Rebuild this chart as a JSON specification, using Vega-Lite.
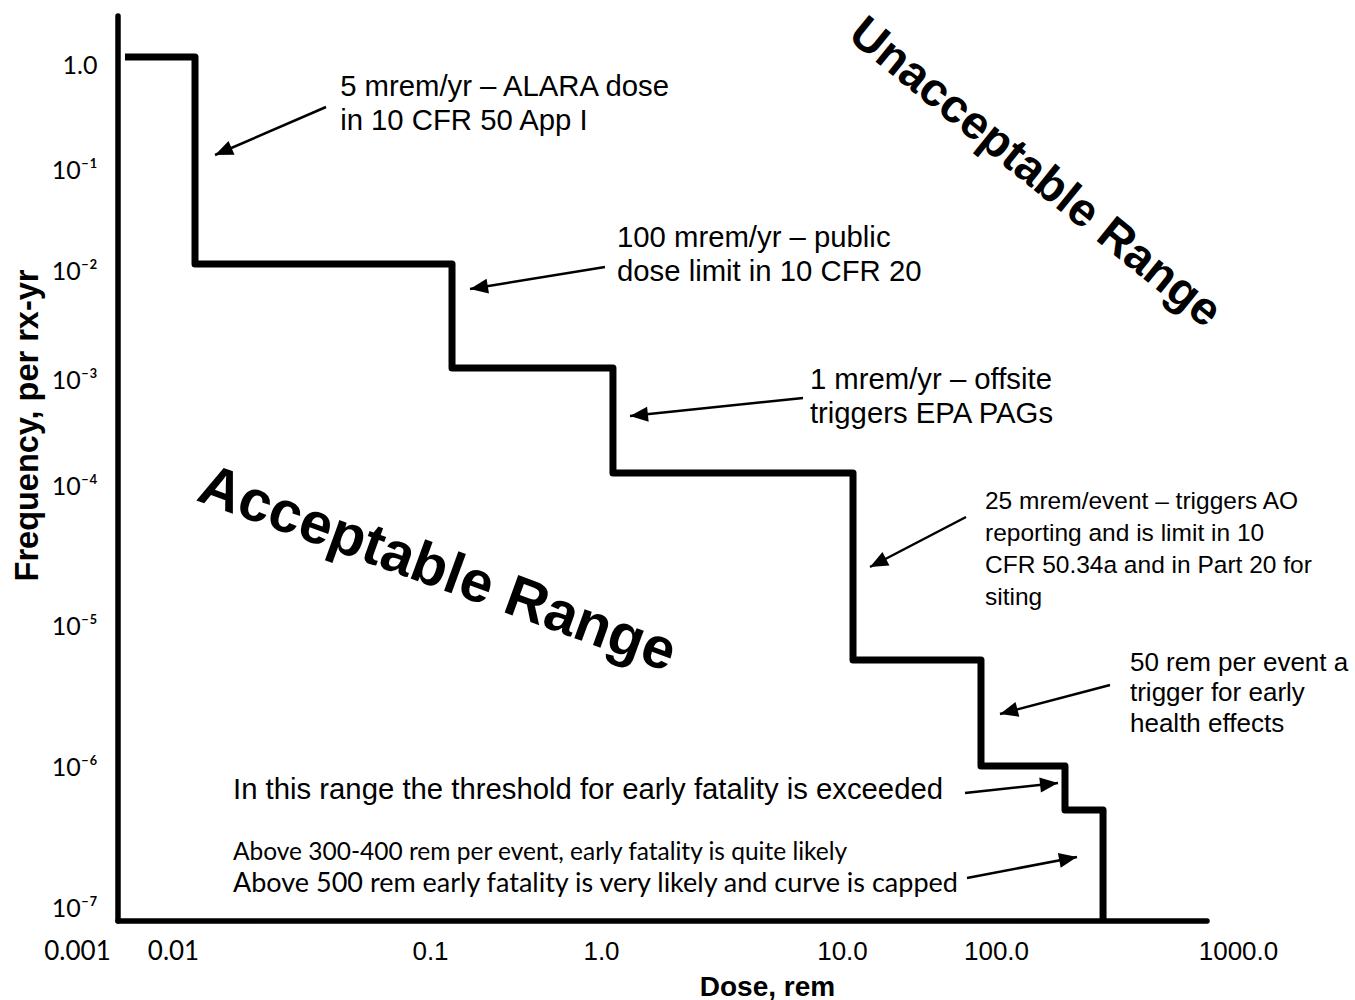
{
  "$schema": "https://vega.github.io/schema/vega-lite/v6.json",
  "width": 1132,
  "height": 905,
  "autosize": {"type": "none"},
  "padding": {"left": 118, "top": 16, "right": 105, "bottom": 79},
  "background": "white",
  "config": {"view": {"stroke": null}},
  "datasets": {
    "frame": [
      {"dose": 0.002673, "freq": 8.09e-8, "dose2": 0.002673, "freq2": 2.93},
      {"dose": 0.002673, "freq": 8.09e-8, "dose2": 744.6, "freq2": 8.09e-8}
    ],
    "steps": [
      {"dose": 0.00316, "freq": 1.192},
      {"dose": 0.01218, "freq": 0.01173},
      {"dose": 0.1345, "freq": 0.001288},
      {"dose": 1.121, "freq": 0.0001327},
      {"dose": 11.79, "freq": 0.00000574},
      {"dose": 79.9, "freq": 0.000001016},
      {"dose": 192.8, "freq": 4.955e-7},
      {"dose": 276.9, "freq": 8.09e-8}
    ],
    "arrows": [
      {"dose": 0.01457, "freq": 0.1389, "dose2": 0.03939, "freq2": 0.3981},
      {"dose": 0.1714, "freq": 0.006837, "dose2": 1.039, "freq2": 0.01095},
      {"dose": 1.319, "freq": 0.0004573, "dose2": 6.889, "freq2": 0.0006762},
      {"dose": 15.2, "freq": 0.00002639, "dose2": 63.87, "freq2": 0.00006006},
      {"dose": 103.9, "freq": 0.000002376, "dose2": 295.9, "freq2": 0.000003815},
      {"dose": 180.4, "freq": 7.7e-7, "dose2": 62.9, "freq2": 6.54e-7},
      {"dose": 216.1, "freq": 2.3e-7, "dose2": 64.8, "freq2": 1.632e-7}
    ],
    "notesLarge": [
      {"dose": 0.0447, "freq": 0.6184, "note": ["5 mrem/yr – ALARA dose", "in 10 CFR 50 App I"]},
      {"dose": 1.165, "freq": 0.02137, "note": ["100 mrem/yr – public", "dose limit in 10 CFR 20"]},
      {"dose": 7.36, "freq": 0.001, "note": ["1 mrem/yr – offsite", "triggers EPA PAGs"]},
      {"dose": 0.01712, "freq": 6.867e-7, "note": ["In this range the threshold for early fatality is exceeded"]}
    ],
    "notesMid": [
      {"dose": 84.8, "freq": 0.00007686, "note": ["25 mrem/event – triggers AO", "reporting and is limit in 10", "CFR 50.34a and in Part 20 for", "siting"]}
    ],
    "notesRight": [
      {"dose": 357.8, "freq": 0.000005465, "note": ["50 rem per event a", "trigger for early", "health effects"]}
    ],
    "note7": [
      {"dose": 0.01712, "freq": 2.455e-7, "note": "Above 300-400 rem per event, early fatality is quite likely"}
    ],
    "note8": [
      {"dose": 0.01712, "freq": 1.48e-7, "note": "Above 500 rem early fatality is very likely and curve is capped"}
    ],
    "acceptable": [
      {"dose": 0.1099, "freq": 0.00002512, "region": "Acceptable Range"}
    ],
    "unacceptable": [
      {"dose": 144.9, "freq": 0.0935, "region": "Unacceptable Range"}
    ]
  },
  "encoding": {
    "x": {
      "field": "dose",
      "type": "quantitative",
      "scale": {
        "type": "log",
        "domain": [0.002673, 0.01, 0.1, 1, 10, 100, 1000, 1121],
        "range": [0, 55, 312, 483, 724, 878, 1120, 1132],
        "nice": false
      },
      "axis": {
        "values": [0.002673, 0.01, 0.1, 1, 10, 100, 1000],
        "labelExpr": "['0.001','0.01','0.1','1.0','10.0','100.0','1000.0'][datum.value < 0.005 ? 0 : round(log(datum.value)/LN10) + 3]",
        "domain": false,
        "ticks": false,
        "tickSize": 0,
        "grid": false,
        "labelFont": {"condition": {"test": "datum.value < 0.05", "value": "Lato"}, "value": "Liberation Sans"},
        "labelFontSize": 26,
        "labelColor": "black",
        "labelOffset": {"condition": {"test": "datum.value < 0.005", "value": -41}, "value": 0},
        "labelPadding": 17,
        "labelFlush": false,
        "labelOverlap": false,
        "labelBound": false,
        "title": "Dose, rem",
        "titleFont": "Liberation Sans",
        "titleFontSize": 28,
        "titleFontWeight": "bold",
        "titleColor": "black",
        "titleX": 649,
        "titleY": 74,
        "titleBaseline": "alphabetic",
        "titleAlign": "center"
      }
    },
    "y": {
      "field": "freq",
      "type": "quantitative",
      "scale": {
        "type": "log",
        "domain": [8.09e-8, 1e-7, 1e-6, 1e-5, 1e-4, 1e-3, 0.01, 0.1, 1, 2.93],
        "range": [905, 892, 751, 610, 470, 364, 255, 154, 49, 0],
        "nice": false
      },
      "axis": {
        "values": [1e-7, 1e-6, 1e-5, 1e-4, 1e-3, 0.01, 0.1, 1],
        "labelExpr": "['10⁻⁷','10⁻⁶','10⁻⁵','10⁻⁴','10⁻³','10⁻²','10⁻¹','1.0'][round(log(datum.value)/LN10) + 7]",
        "domain": false,
        "ticks": false,
        "tickSize": 0,
        "grid": false,
        "labelFont": "Lato",
        "labelFontSize": 25,
        "labelColor": "black",
        "labelPadding": 21,
        "labelFlush": false,
        "labelOverlap": false,
        "labelBound": false,
        "title": "Frequency, per rx-yr",
        "titleFont": "Liberation Sans",
        "titleFontSize": 32.5,
        "titleFontWeight": "bold",
        "titleColor": "black",
        "titleAngle": -90,
        "titleX": -81,
        "titleY": 409,
        "titleBaseline": "alphabetic",
        "titleAlign": "center"
      }
    }
  },
  "layer": [
    {
      "data": {"name": "frame"},
      "mark": {"type": "rule", "color": "black", "strokeWidth": 5.5, "strokeCap": "round"},
      "encoding": {
        "x2": {"field": "dose2"},
        "y2": {"field": "freq2"}
      }
    },
    {
      "data": {"name": "steps"},
      "mark": {"type": "line", "interpolate": "step-after", "color": "black", "strokeWidth": 7, "strokeJoin": "round"},
      "encoding": {}
    },
    {
      "data": {"name": "arrows"},
      "mark": {"type": "rule", "color": "black", "strokeWidth": 2.5},
      "encoding": {
        "x2": {"field": "dose2"},
        "y2": {"field": "freq2"}
      }
    },
    {
      "data": {"name": "arrows"},
      "mark": {
        "type": "point",
        "shape": "M0,0L-0.42,1L0.42,1Z",
        "size": 1296,
        "filled": true,
        "fill": "black",
        "strokeWidth": 0,
        "opacity": 1,
        "angle": {"expr": "atan2(scale('x', datum.dose) - scale('x', datum.dose2), scale('y', datum.freq2) - scale('y', datum.freq)) * 180 / PI"}
      },
      "encoding": {}
    },
    {
      "data": {"name": "notesLarge"},
      "mark": {"type": "text", "font": "Liberation Sans", "fontSize": 29.3, "lineHeight": 34, "align": "left", "baseline": "middle", "color": "black"},
      "encoding": {"text": {"field": "note", "type": "nominal"}}
    },
    {
      "data": {"name": "notesMid"},
      "mark": {"type": "text", "font": "Liberation Sans", "fontSize": 24.5, "lineHeight": 32, "align": "left", "baseline": "middle", "color": "black"},
      "encoding": {"text": {"field": "note", "type": "nominal"}}
    },
    {
      "data": {"name": "notesRight"},
      "mark": {"type": "text", "font": "Liberation Sans", "fontSize": 26, "lineHeight": 30.5, "align": "left", "baseline": "middle", "color": "black"},
      "encoding": {"text": {"field": "note", "type": "nominal"}}
    },
    {
      "data": {"name": "note7"},
      "mark": {"type": "text", "font": "Lato", "fontSize": 24.5, "align": "left", "baseline": "middle", "color": "black"},
      "encoding": {"text": {"field": "note", "type": "nominal"}}
    },
    {
      "data": {"name": "note8"},
      "mark": {"type": "text", "font": "Lato", "fontSize": 27, "align": "left", "baseline": "middle", "color": "black"},
      "encoding": {"text": {"field": "note", "type": "nominal"}}
    },
    {
      "data": {"name": "acceptable"},
      "mark": {"type": "text", "font": "Liberation Sans", "fontWeight": "bold", "fontSize": 58, "angle": 20, "align": "center", "baseline": "middle", "color": "black"},
      "encoding": {"text": {"field": "region", "type": "nominal"}}
    },
    {
      "data": {"name": "unacceptable"},
      "mark": {"type": "text", "font": "Liberation Sans", "fontWeight": "bold", "fontSize": 47, "angle": 39, "align": "center", "baseline": "middle", "color": "black"},
      "encoding": {"text": {"field": "region", "type": "nominal"}}
    }
  ]
}
